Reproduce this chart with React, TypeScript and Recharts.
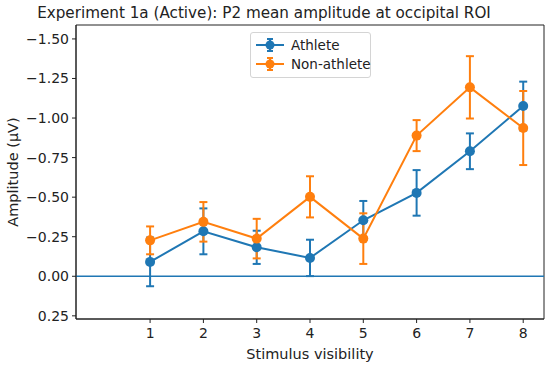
import { LineChart, Line, XAxis, YAxis, ErrorBar, ReferenceLine, ReferenceArea, Legend } from 'recharts';

const visibility = [1, 2, 3, 4, 5, 6, 7, 8];
const athleteMean = [-0.091, -0.284, -0.183, -0.116, -0.354, -0.527, -0.79, -1.076];
const athleteErr = [0.154, 0.145, 0.105, 0.115, 0.122, 0.144, 0.113, 0.154];
const nonAthleteMean = [-0.227, -0.344, -0.238, -0.502, -0.238, -0.889, -1.194, -0.937];
const nonAthleteErr = [0.088, 0.125, 0.125, 0.13, 0.16, 0.098, 0.197, 0.234];
const yTicks = [-1.5, -1.25, -1.0, -0.75, -0.5, -0.25, 0, 0.25];

const BLUE = '#1f77b4';
const ORANGE = '#ff7f0e';
const FONT = '"DejaVu Sans", sans-serif';
const X_DOMAIN = [-0.39, 8.39];
const Y_DOMAIN = [-1.588, 0.27];
const TITLE = 'Experiment 1a (Active): P2 mean amplitude at occipital ROI';

const data = visibility.map((v, i) => ({
  x: v,
  athlete: athleteMean[i],
  athleteErr: athleteErr[i],
  nonAthlete: nonAthleteMean[i],
  nonAthleteErr: nonAthleteErr[i],
}));

const fmtY = (v: number) => (v < 0 ? '\u2212' : '') + Math.abs(v).toFixed(2);

function LegendIcon({ color }: { color: string }) {
  return (
    <svg width={28} height={14} style={{ display: 'block', flex: 'none' }}>
      <line x1={0} y1={7} x2={28} y2={7} stroke={color} strokeWidth={2} />
      <line x1={14} y1={1} x2={14} y2={13} stroke={color} strokeWidth={2} />
      <line x1={11} y1={1} x2={17} y2={1} stroke={color} strokeWidth={2} />
      <line x1={11} y1={13} x2={17} y2={13} stroke={color} strokeWidth={2} />
      <circle cx={14} cy={7} r={4.5} fill={color} />
    </svg>
  );
}

function renderLegend() {
  const items = [
    { label: 'Athlete', color: BLUE },
    { label: 'Non-athlete', color: ORANGE },
  ];
  return (
    <div style={{
      border: '1px solid #d4d4d4', borderRadius: 3, background: 'rgba(255,255,255,0.85)',
      width: 121, padding: '2px 0 3px 5px', boxSizing: 'border-box', fontFamily: FONT, fontSize: 13.5,
      whiteSpace: 'nowrap',
    }}>
      {items.map(({ label, color }) => (
        <div key={label} style={{ display: 'flex', alignItems: 'center', height: 19.5 }}>
          <LegendIcon color={color} />
          <span style={{ marginLeft: 7, color: '#222' }}>{label}</span>
        </div>
      ))}
    </div>
  );
}

export default function App() {
  return (
    <div style={{ position: 'absolute', left: 0, top: 0, width: 550, height: 365, background: 'white' }}>
      <LineChart width={550} height={365} data={data} margin={{ top: 25, right: 6, left: 0, bottom: 16 }}>
        <XAxis
          dataKey="x"
          type="number"
          domain={X_DOMAIN}
          allowDataOverflow
          ticks={visibility}
          height={30}
          tickSize={4}
          tickMargin={5}
          stroke="#222"
          tick={{ fill: '#222', fontSize: 14, fontFamily: FONT }}
          label={{ value: 'Stimulus visibility', position: 'bottom', offset: 0, fill: '#222', fontSize: 14.5, fontFamily: FONT }}
        />
        <YAxis
          type="number"
          reversed
          domain={Y_DOMAIN}
          allowDataOverflow
          ticks={yTicks}
          tickFormatter={fmtY}
          width={76}
          tickSize={4}
          tickMargin={3}
          stroke="#222"
          tick={{ fill: '#222', fontSize: 14, fontFamily: FONT }}
          label={{
            content: () => (
              <text x={14} y={172} transform="rotate(-90 14 172)" textAnchor="middle" dominantBaseline="middle"
                fill="#222" fontSize={14.5} fontFamily={FONT}>Amplitude (μV)</text>
            ),
          }}
        />
        {/* frame around the plot, carrying the title */}
        <ReferenceArea
          x1={X_DOMAIN[0]} x2={X_DOMAIN[1]} y1={Y_DOMAIN[0]} y2={Y_DOMAIN[1]}
          fill="none" fillOpacity={0} stroke="#222" strokeWidth={1}
          label={{
            content: () => (
              <text x={264} y={18} textAnchor="middle" fill="#222" fontSize={15.2} fontFamily={FONT}>{TITLE}</text>
            ),
          }}
        />
        <ReferenceLine y={0} stroke={BLUE} strokeWidth={1.5} />
        <Legend
          layout="vertical"
          verticalAlign="middle"
          align="center"
          content={renderLegend}
          wrapperStyle={{ position: 'absolute', left: 250, top: 32, width: 'auto', height: 'auto' }}
        />
        {/* error bars first, so all markers sit above them */}
        <Line dataKey="athlete" stroke="none" dot={false} activeDot={false} legendType="none" isAnimationActive={false}>
          <ErrorBar dataKey="athleteErr" direction="y" width={4} strokeWidth={2} stroke={BLUE} isAnimationActive={false} />
        </Line>
        <Line dataKey="nonAthlete" stroke="none" dot={false} activeDot={false} legendType="none" isAnimationActive={false}>
          <ErrorBar dataKey="nonAthleteErr" direction="y" width={4} strokeWidth={2} stroke={ORANGE} isAnimationActive={false} />
        </Line>
        <Line dataKey="athlete" name="Athlete" stroke={BLUE} strokeWidth={2} isAnimationActive={false}
          dot={{ r: 5, fill: BLUE, stroke: BLUE, strokeWidth: 0 }} activeDot={false} />
        <Line dataKey="nonAthlete" name="Non-athlete" stroke={ORANGE} strokeWidth={2} isAnimationActive={false}
          dot={{ r: 5, fill: ORANGE, stroke: ORANGE, strokeWidth: 0 }} activeDot={false} />
      </LineChart>
    </div>
  );
}
